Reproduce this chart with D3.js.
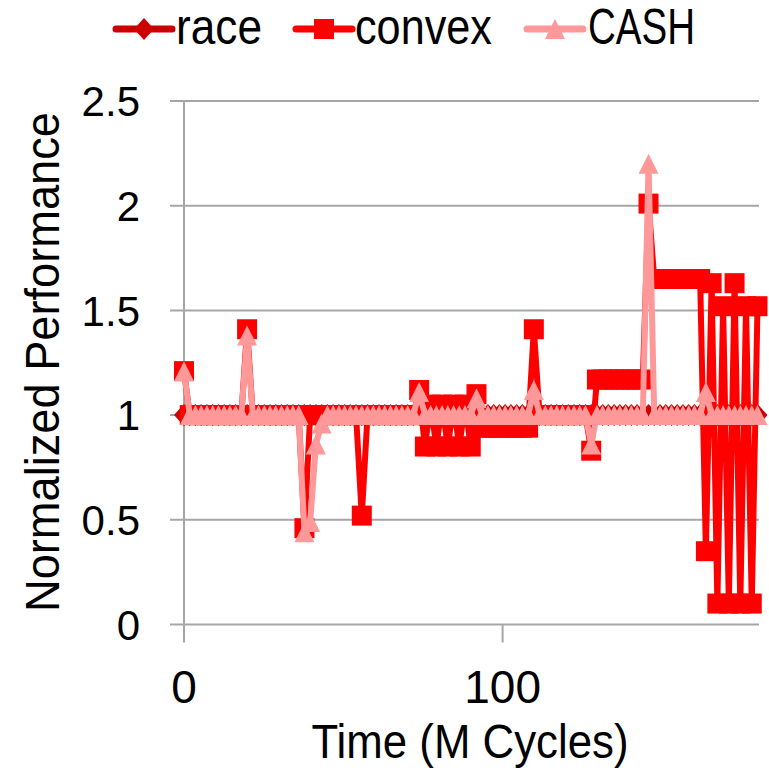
<!DOCTYPE html>
<html><head><meta charset="utf-8">
<script src="https://cdn.jsdelivr.net/npm/d3@7"></script>
<style>body{margin:0;background:#fff}svg{display:block}</style>
</head><body>
<svg id="c" width="769" height="771"></svg>
<script>
const seriesNames = ["race", "convex", "CASH"];
const timeStep = 1.8; // M cycles between samples
const race = [
1,1,1,1,1,1,1,1,1,1,1,1,1,1,1,1,1,1,1,1,
1,1,1,1,1,1,1,1,1,1,1,1,1,1,1,1,1,1,1,1,
1,1,1,1,1,1,1,1,1,1,1,1,1,1,1,1,1,1,1,1,
1,1,1,1,1,1,1,1,1,1,1,1,1,1,1,1,1,1,1,1,
1,1,1,1,1,1,1,1,1,1,1,1,1,1,1,1,1,1,1,1,
1];
const convex = [
1.21,1,1,1,1,1,1,1,1,1,1,1.41,1,1,1,1,1,1,1,1,
1,0.46,1,1,1,1,1,1,1,1,1,0.52,1,1,1,1,1,1,1,1,
1,1.12,0.85,1.05,0.85,1.05,0.85,1.05,0.85,1.05,0.85,1.10,0.94,0.94,0.94,0.94,0.94,0.94,0.94,0.94,
0.94,1.41,1,1,1,1,1,1,1,1,1,0.83,1.17,1.17,1.17,1.17,1.17,1.17,1.17,1.17,
1.17,2.01,1.65,1.65,1.65,1.65,1.65,1.65,1.65,1.65,1.65,0.35,1.63,0.1,1.52,0.1,1.63,0.1,1.52,0.1,
1.52];
const cash = [
1.21,1,1,1,1,1,1,1,1,1,1,1.38,1,1,1,1,1,1,1,1,
1,0.44,0.49,0.86,0.96,1,1,1,1,1,1,1,1,1,1,1,1,1,1,1,
1,1.11,1,1,1,1,1,1,1,1,1,1.08,1,1,1,1,1,1,1,1,
1,1.12,1,1,1,1,1,1,1,1,1,0.86,1,1,1,1,1,1,1,1,
1,2.2,1,1,1,1,1,1,1,1,1,1.11,1,1,1,1,1,1,1,1,
1];
const yTicks = [0, 0.5, 1, 1.5, 2, 2.5];
const yTickLabels = ["0", "0.5", "1", "1.5", "2", "2.5"];
const xTicks = [0, 100];
const xTitle = "Time (M Cycles)";
const yTitle = "Normalized Performance";

const colors = {race: "#CC0000", convex: "#FF0000", CASH: "#FF9999"};
const FONT = "'Liberation Sans', Arial, sans-serif";

const svg = d3.select("#c");
svg.append("rect").attr("width", 769).attr("height", 771).attr("fill", "#fff");

const x = d3.scaleLinear().domain([0, 180]).range([184, 757.5]);
const y = d3.scaleLinear().domain([0, 2.5]).range([624.5, 101]);

// gridlines
const grid = svg.append("g");
grid.selectAll("line").data(yTicks).join("line")
  .attr("x1", 170).attr("x2", 759)
  .attr("y1", d => y(d)).attr("y2", d => y(d))
  .attr("stroke", "#A6A6A6").attr("stroke-width", 2);
// y axis line
svg.append("line").attr("x1", x(0)).attr("x2", x(0)).attr("y1", y(2.5)).attr("y2", y(0))
  .attr("stroke", "#A6A6A6").attr("stroke-width", 2);
// x ticks
svg.append("g").selectAll("line").data(xTicks).join("line")
  .attr("x1", d => x(d)).attr("x2", d => x(d)).attr("y1", y(0)).attr("y2", y(0) + 18)
  .attr("stroke", "#A6A6A6").attr("stroke-width", 2);

// tick labels
svg.append("g").selectAll("text").data(yTicks).join("text")
  .attr("x", 140).attr("y", d => y(d)).attr("dy", "0.36em")
  .attr("text-anchor", "end").attr("font-family", FONT).attr("font-size", 42)
  .attr("fill", "#000").text((d, i) => yTickLabels[i]);
svg.append("g").selectAll("text").data(xTicks).join("text")
  .attr("x", d => x(d)).attr("y", 703)
  .attr("text-anchor", "middle").attr("font-family", FONT).attr("font-size", 46)
  .attr("fill", "#000").text(d => d);

// titles
svg.append("text").attr("x", 470).attr("y", 758).attr("text-anchor", "middle")
  .attr("font-family", FONT).attr("font-size", 48)
  .attr("textLength", 317).attr("lengthAdjust", "spacingAndGlyphs")
  .text(xTitle);
svg.append("text").attr("transform", "translate(59,362) rotate(-90)").attr("text-anchor", "middle")
  .attr("font-family", FONT).attr("font-size", 48)
  .attr("textLength", 500).attr("lengthAdjust", "spacingAndGlyphs")
  .text(yTitle);

// symbols
const MS = 20;
function markerPath(name) {
  if (name === "race") return `M0,-11L10,0L0,11L-10,0Z`;
  if (name === "convex") return `M${-MS/2},${-MS/2}h${MS}v${MS}h${-MS}Z`;
  return `M0,${-MS/2}L${MS/2},${MS/2}L${-MS/2},${MS/2}Z`;
}

const dataBy = {race: race, convex: convex, CASH: cash};
const line = d3.line().x((d, i) => x(i * timeStep)).y(d => y(d));

seriesNames.forEach(name => {
  const vals = dataBy[name];
  const g = svg.append("g");
  g.append("path").attr("d", line(vals)).attr("fill", "none")
    .attr("stroke", colors[name]).attr("stroke-width", 6).attr("stroke-linejoin", "round");
  g.selectAll("path.m").data(vals).join("path").attr("class", "m")
    .attr("transform", (d, i) => `translate(${x(i * timeStep)},${y(d)})`)
    .attr("d", markerPath(name)).attr("fill", colors[name]);
});

// legend
const legendItems = [
  {name: "race", x0: 116, tx: 176, tw: 86},
  {name: "convex", x0: 296, tx: 355, tw: 137},
  {name: "CASH", x0: 527, tx: 588, tw: 107}
];
const lg = svg.append("g");
legendItems.forEach(it => {
  lg.append("line").attr("x1", it.x0).attr("x2", it.x0 + 56).attr("y1", 29).attr("y2", 29)
    .attr("stroke", colors[it.name]).attr("stroke-width", 7).attr("stroke-linecap", "round");
  lg.append("path").attr("transform", `translate(${it.x0 + 28},29)`)
    .attr("d", markerPath(it.name)).attr("fill", colors[it.name]);
  lg.append("text").attr("x", it.tx).attr("y", 44).attr("font-family", FONT).attr("font-size", 50)
    .attr("textLength", it.tw).attr("lengthAdjust", "spacingAndGlyphs").text(it.name);
});
</script>
</body></html>
